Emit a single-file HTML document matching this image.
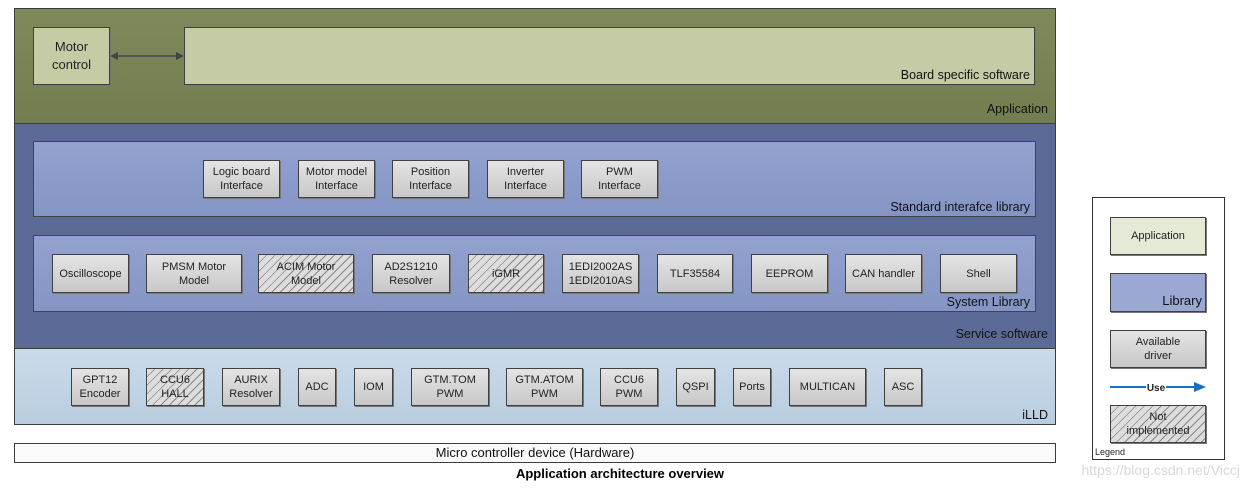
<!DOCTYPE html>
<html><head><meta charset="utf-8"><style>
body{margin:0;width:1247px;height:491px;background:#fff;position:relative;overflow:hidden;font-family:"Liberation Sans",sans-serif;}
div{box-sizing:border-box;position:absolute;}
.lay{border:1px solid #3c3c3c;}
.b{background:linear-gradient(#e4e4e4,#c8c8c8);border:1px solid #404040;font-size:11px;color:#222;display:flex;align-items:center;justify-content:center;text-align:center;line-height:14px;box-shadow:1px 1px 0 #777;}
.h{background:repeating-linear-gradient(135deg,#ddd 0 5px,#888 5px 6px);}
.lbl{font-size:12.5px;color:#111;text-align:right;}
</style></head><body>
<div class="lay" style="left:14px;top:8px;width:1042px;height:116px;background:linear-gradient(#7e8a5c,#727e50);"></div>
<div class="b" style="left:33px;top:27px;width:77px;height:58px;background:#c5cca5;font-size:13px;line-height:18px;">Motor<br>control</div>
<div class="b" style="left:184px;top:27px;width:851px;height:58px;background:#c5cca5;"></div>
<div class="lbl" style="left:700px;top:68px;width:330px;">Board specific software</div>
<div class="lbl" style="left:700px;top:102px;width:348px;">Application</div>
<svg style="position:absolute;left:108px;top:50px" width="78" height="12"><line x1="4" y1="6" x2="74" y2="6" stroke="#555" stroke-width="2"/><polygon points="2,6 10,2 10,10" fill="#444"/><polygon points="76,6 68,2 68,10" fill="#444"/></svg>

<div class="lay" style="left:14px;top:123px;width:1042px;height:226px;background:#5b6a96;"></div>
<div class="lay" style="left:33px;top:141px;width:1003px;height:76px;background:linear-gradient(#93a2cf,#8494c4);border-color:#444;"></div>
<div class="lbl" style="left:700px;top:200px;width:330px;">Standard interafce library</div>
<div class="b" style="left:203px;top:160px;width:77px;height:38px;">Logic board<br>Interface</div>
<div class="b" style="left:298px;top:160px;width:77px;height:38px;">Motor model<br>Interface</div>
<div class="b" style="left:392px;top:160px;width:77px;height:38px;">Position<br>Interface</div>
<div class="b" style="left:487px;top:160px;width:77px;height:38px;">Inverter<br>Interface</div>
<div class="b" style="left:581px;top:160px;width:77px;height:38px;">PWM<br>Interface</div>

<div class="lay" style="left:33px;top:235px;width:1003px;height:77px;background:linear-gradient(#93a2cf,#8494c4);border-color:#444;"></div>
<div class="lbl" style="left:700px;top:295px;width:330px;">System Library</div>
<div class="b" style="left:52px;top:254px;width:77px;height:39px;">Oscilloscope</div>
<div class="b" style="left:146px;top:254px;width:96px;height:39px;">PMSM Motor<br>Model</div>
<div class="b h" style="left:258px;top:254px;width:96px;height:39px;">ACIM Motor<br>Model</div>
<div class="b" style="left:372px;top:254px;width:78px;height:39px;">AD2S1210<br>Resolver</div>
<div class="b h" style="left:468px;top:254px;width:76px;height:39px;">iGMR</div>
<div class="b" style="left:562px;top:254px;width:77px;height:39px;">1EDI2002AS<br>1EDI2010AS</div>
<div class="b" style="left:657px;top:254px;width:76px;height:39px;">TLF35584</div>
<div class="b" style="left:751px;top:254px;width:77px;height:39px;">EEPROM</div>
<div class="b" style="left:845px;top:254px;width:77px;height:39px;">CAN handler</div>
<div class="b" style="left:940px;top:254px;width:77px;height:39px;">Shell</div>
<div class="lbl" style="left:700px;top:327px;width:348px;">Service software</div>

<div class="lay" style="left:14px;top:348px;width:1042px;height:77px;background:linear-gradient(#cadbea,#b9cde0);"></div>
<div class="lbl" style="left:700px;top:408px;width:348px;">iLLD</div>
<div class="b" style="left:71px;top:368px;width:58px;height:38px;">GPT12<br>Encoder</div>
<div class="b h" style="left:146px;top:368px;width:58px;height:38px;">CCU6<br>HALL</div>
<div class="b" style="left:222px;top:368px;width:58px;height:38px;">AURIX<br>Resolver</div>
<div class="b" style="left:298px;top:368px;width:38px;height:38px;">ADC</div>
<div class="b" style="left:354px;top:368px;width:39px;height:38px;">IOM</div>
<div class="b" style="left:411px;top:368px;width:78px;height:38px;">GTM.TOM<br>PWM</div>
<div class="b" style="left:506px;top:368px;width:77px;height:38px;">GTM.ATOM<br>PWM</div>
<div class="b" style="left:600px;top:368px;width:58px;height:38px;">CCU6<br>PWM</div>
<div class="b" style="left:676px;top:368px;width:39px;height:38px;">QSPI</div>
<div class="b" style="left:733px;top:368px;width:38px;height:38px;">Ports</div>
<div class="b" style="left:789px;top:368px;width:77px;height:38px;">MULTICAN</div>
<div class="b" style="left:884px;top:368px;width:38px;height:38px;">ASC</div>

<div class="lay" style="left:14px;top:443px;width:1042px;height:20px;background:#fafafa;font-size:13px;text-align:center;line-height:18px;color:#111;">Micro controller device (Hardware)</div>
<div style="left:14px;top:466px;width:1212px;text-align:center;font-weight:bold;font-size:13px;color:#000;">Application architecture overview</div>

<div style="left:1092px;top:197px;width:133px;height:263px;border:1px solid #333;background:#fff;"></div>
<div class="b" style="left:1110px;top:217px;width:96px;height:38px;background:#e5ead6;">Application</div>
<div class="b" style="left:1110px;top:273px;width:96px;height:39px;background:#9aa8d3;"></div>
<div style="left:1110px;top:293px;width:92px;text-align:right;font-size:13px;color:#111;">Library</div>
<div class="b" style="left:1110px;top:330px;width:96px;height:38px;">Available<br>driver</div>
<svg style="position:absolute;left:1108px;top:380px" width="100" height="14"><line x1="2" y1="7" x2="88" y2="7" stroke="#1a6fbf" stroke-width="2"/><polygon points="98,7 86,2 86,12" fill="#1a6fbf"/><rect x="38" y="1" width="20" height="12" fill="#fff"/><text x="48" y="11" font-size="10" font-weight="bold" text-anchor="middle" font-family="Liberation Sans" fill="#222">Use</text></svg>
<div class="b h" style="left:1110px;top:405px;width:96px;height:38px;">Not<br>implemented</div>
<div style="left:1095px;top:447px;font-size:9px;color:#222;">Legend</div>
<div style="left:1060px;top:462px;width:180px;text-align:right;font-size:14px;color:#d8d8d8;">https://blog.csdn.net/Viccj</div>
</body></html>
